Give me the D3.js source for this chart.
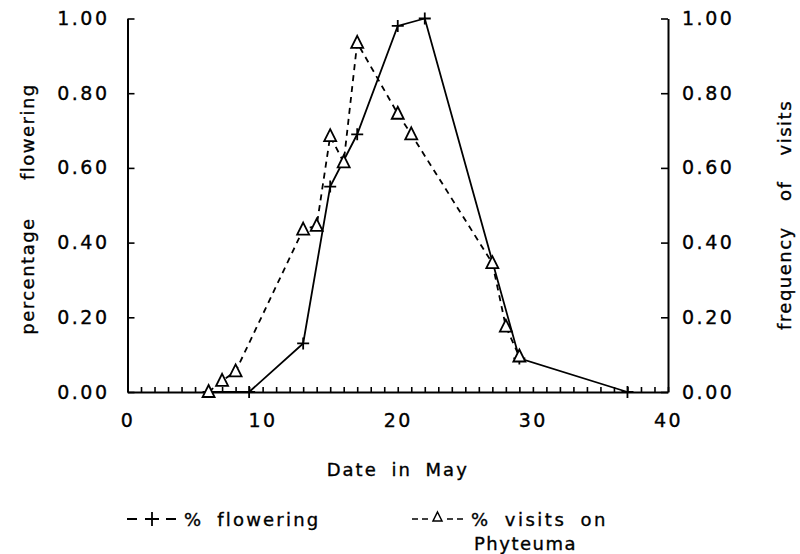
<!DOCTYPE html>
<html>
<head>
<meta charset="utf-8">
<script src="https://cdn.jsdelivr.net/npm/d3@7"></script>
<style>
  body { margin: 0; background: #fff; }
  svg { display: block; }
  text { font-family: "DejaVu Sans", sans-serif; fill: #000; stroke: #000; stroke-width: 0.35px; }
</style>
</head>
<body>
<svg id="chart" width="800" height="554"></svg>
<script>
// ---- data ----
const flowDays = [6, 9, 13, 15, 17, 20, 22, 29, 37];
const flowVals = [0, 0, 0.13, 0.55, 0.69, 0.98, 1.00, 0.09, 0];
const visitDays = [6, 7, 8, 13, 14, 15, 16, 17, 20, 21, 27, 28, 29];
const visitVals = [0, 0.03, 0.055, 0.435, 0.445, 0.685, 0.615, 0.935, 0.745, 0.69, 0.345, 0.175, 0.095];
const xTickLabels = [0, 10, 20, 30, 40];
const yTickLabels = [0, 0.2, 0.4, 0.6, 0.8, 1.0];
const xLabel = "Date in May";
const yLeftLabel = "percentage flowering";
const yRightLabel = "frequency of visits";
const legendFlow = "% flowering";
const legendVisit1 = "% visits on";
const legendVisit2 = "Phyteuma";

const svg = d3.select("#chart");
const x = d3.scaleLinear().domain([0, 40]).range([127.5, 668]);
const y = d3.scaleLinear().domain([0, 1]).range([392, 18.5]);

const tickFont = "19px";
const LS = "2.5px";

// bottom axis
const xAxis = d3.axisBottom(x)
  .tickValues(d3.range(0, 41))
  .tickSizeInner(-5).tickSizeOuter(0).tickPadding(22)
  .tickFormat(d => xTickLabels.includes(d) ? d3.format("d")(d) : "");
const gx = svg.append("g").attr("transform", `translate(0,${y(0)})`).call(xAxis);
gx.selectAll("text").style("font-size", tickFont).style("letter-spacing", LS);

// left axis
const yAxisL = d3.axisLeft(y).tickValues(yTickLabels)
  .tickSizeInner(-7).tickSizeOuter(0).tickPadding(18)
  .tickFormat(d3.format(".2f"));
const gl = svg.append("g").attr("transform", `translate(${x(0)},0)`).call(yAxisL);
gl.selectAll("text").style("font-size", tickFont).style("letter-spacing", LS);

// right axis
const yAxisR = d3.axisRight(y).tickValues(yTickLabels)
  .tickSizeInner(-7).tickSizeOuter(0).tickPadding(14)
  .tickFormat(d3.format(".2f"));
const gr = svg.append("g").attr("transform", `translate(${x(40)},0)`).call(yAxisR);
gr.selectAll("text").style("font-size", tickFont).style("letter-spacing", LS);

svg.selectAll(".domain").attr("stroke", "#000").attr("stroke-width", 2);
svg.selectAll(".tick line").attr("stroke", "#000").attr("stroke-width", 1.6);

// lines
const flowData = flowDays.map((d, i) => [d, flowVals[i]]);
const visitData = visitDays.map((d, i) => [d, visitVals[i]]);
const line = d3.line().x(d => x(d[0])).y(d => y(d[1]));

svg.append("path").datum(flowData).attr("d", line)
  .attr("fill", "none").attr("stroke", "#000").attr("stroke-width", 1.8);
svg.append("path").datum(visitData).attr("d", line)
  .attr("fill", "none").attr("stroke", "#000").attr("stroke-width", 1.8)
  .attr("stroke-dasharray", "6,5");

// markers
svg.selectAll(".plus").data(flowData).enter().append("path")
  .attr("transform", d => `translate(${x(d[0])},${y(d[1])})`)
  .attr("d", "M-6,0H6M0,-6V6")
  .attr("stroke", "#000").attr("stroke-width", 1.8).attr("fill", "none");
svg.selectAll(".tri").data(visitData).enter().append("path")
  .attr("transform", d => `translate(${x(d[0])},${y(d[1])})`)
  .attr("d", "M0,-7L6,5L-6,5Z")
  .attr("stroke", "#000").attr("stroke-width", 1.8).attr("fill", "#fff");

// axis titles
svg.append("text").attr("x", x(20)).attr("y", 476).attr("text-anchor", "middle")
  .style("font-size", "18px").style("letter-spacing", "2px").style("word-spacing", "6px")
  .text(xLabel);
svg.append("text").attr("transform", `translate(34,209) rotate(-90)`)
  .attr("text-anchor", "middle")
  .style("font-size", "18px").style("letter-spacing", "1.5px").style("word-spacing", "30px")
  .text(yLeftLabel);
svg.append("text").attr("transform", `translate(791,215) rotate(-90)`)
  .attr("text-anchor", "middle")
  .style("font-size", "18px").style("letter-spacing", "1.5px").style("word-spacing", "18px")
  .text(yRightLabel);

// legend
const lg = svg.append("g");
lg.append("path").attr("d", "M127,519H137M145,519H159M152,512V526M166,519H176")
  .attr("stroke", "#000").attr("stroke-width", 1.8).attr("fill", "none");
lg.append("text").attr("x", 184).attr("y", 526)
  .style("font-size", "18px").style("letter-spacing", "2.2px").style("word-spacing", "6px")
  .text(legendFlow);
lg.append("path").attr("d", "M412,519H418M422,519H428M447,519H453M457,519H463")
  .attr("stroke", "#000").attr("stroke-width", 1.5).attr("fill", "none");
lg.append("path").attr("d", "M437.5,512L442,521L433,521Z")
  .attr("stroke", "#000").attr("stroke-width", 1.5).attr("fill", "none");
lg.append("text").attr("x", 471).attr("y", 526)
  .style("font-size", "18px").style("letter-spacing", "2.5px").style("word-spacing", "6px")
  .text(legendVisit1);
lg.append("text").attr("x", 474).attr("y", 550)
  .style("font-size", "18px").style("letter-spacing", "1.5px")
  .text(legendVisit2);
</script>
</body>
</html>
